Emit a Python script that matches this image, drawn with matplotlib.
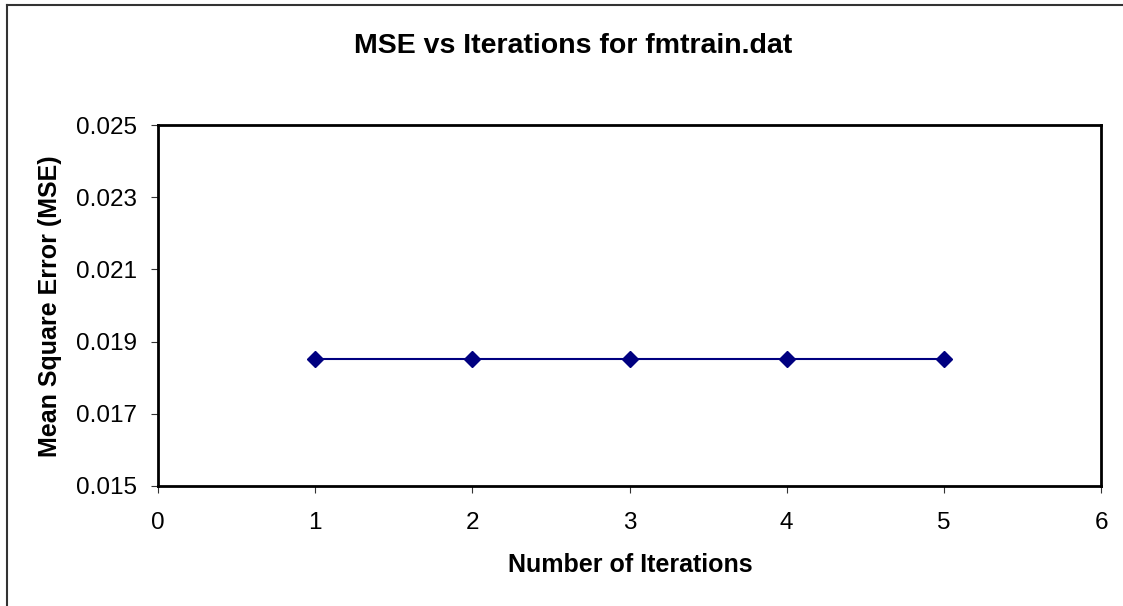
import numpy as np
import matplotlib
matplotlib.use('Agg')
import matplotlib.pyplot as plt
from matplotlib.lines import Line2D

iterations = [1, 2, 3, 4, 5]
mse = [0.01853, 0.01853, 0.01853, 0.01853, 0.01853]
xticks = [0, 1, 2, 3, 4, 5, 6]
yticks = [0.015, 0.017, 0.019, 0.021, 0.023, 0.025]

plt.rcParams['font.family'] = ['Liberation Sans', 'DejaVu Sans']

W, H = 1123, 606
fig = plt.figure(figsize=(W / 100, H / 100), dpi=100)
ax = fig.add_axes([158 / W, 1 - 486 / H, (1101 - 158) / W, (486 - 125) / H])

ax.plot(iterations, mse, color='#000080', lw=1.5, marker='D', ms=8,
        markeredgecolor='#000080', markerfacecolor='#000080', clip_on=False)

ax.set_xlim(0, 6)
ax.set_ylim(0.015, 0.025)
ax.set_xticks(xticks)
ax.set_yticks(yticks)
ax.set_xticklabels([str(t) for t in xticks])
ax.set_yticklabels([f'{t:.3f}' for t in yticks])
ax.tick_params(direction='out', length=5, width=0.8, labelsize=17.5, color='#333333')
ax.tick_params(axis='x', pad=14)
ax.tick_params(axis='y', pad=10)
for s in ax.spines.values():
    s.set_linewidth(2)
    s.set_color('black')

fig.text(573 / W, 1 - 46 / H, 'MSE vs Iterations for fmtrain.dat', ha='center', va='center',
         fontsize=20.5, fontweight='bold')
fig.text(630 / W, 1 - 565 / H, 'Number of Iterations', ha='center', va='center',
         fontsize=18, fontweight='bold')
fig.text(50 / W, 1 - 306 / H, 'Mean Square Error (MSE)', ha='center', va='center',
         rotation=90, fontsize=18, fontweight='bold')

# outer chart frame (top and left edges visible)
fig.add_artist(Line2D([7 / W, 1], [1 - 5 / H, 1 - 5 / H], color='#333333', lw=1.5,
                      transform=fig.transFigure))
fig.add_artist(Line2D([7 / W, 7 / W], [0, 1 - 5 / H], color='#333333', lw=1.5,
                      transform=fig.transFigure))

fig.savefig('out.png', dpi=100)
